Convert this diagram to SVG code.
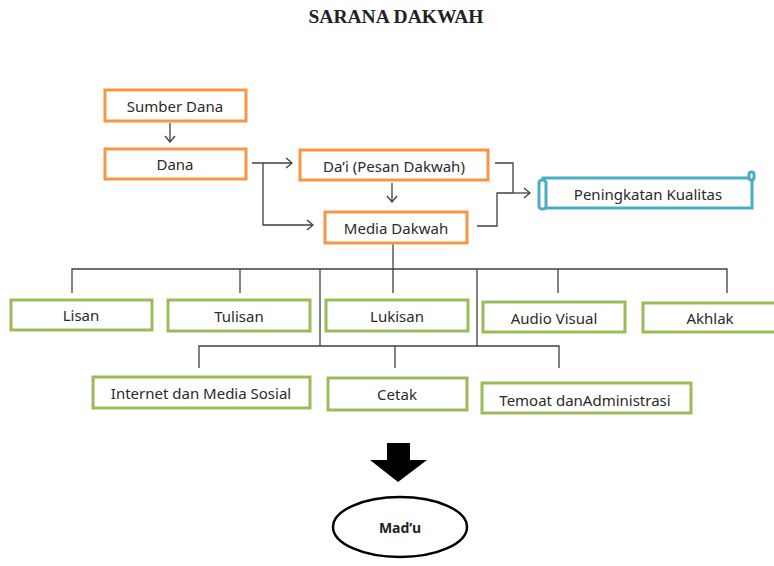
<svg xmlns="http://www.w3.org/2000/svg" width="774" height="566" viewBox="0 0 774 566">
<defs>
<style>
.o{fill:#fff;stroke:#F79646;stroke-width:3}
.g{fill:#fff;stroke:#9BBB59;stroke-width:3}
.t{fill:#fff;stroke:#4BACC6;stroke-width:3}
.lb{font-family:"Noto Sans","Open Sans",sans-serif;font-size:15px;fill:#2a2a2a;text-anchor:middle;dominant-baseline:central}
.ln{fill:none;stroke:#404040;stroke-width:1.3}
</style>
<marker id="ah" markerUnits="userSpaceOnUse" markerWidth="12" markerHeight="12" refX="9" refY="6" orient="auto">
<path d="M3,1 L9,6 L3,11" fill="none" stroke="#404040" stroke-width="1.3"/>
</marker>
</defs>
<rect width="774" height="566" fill="#fff"/>
<text x="396" y="23" font-family="Liberation Serif,serif" font-weight="bold" font-size="19.5" fill="#222" text-anchor="middle">SARANA DAKWAH</text>

<g id="connectors">
<path class="ln" d="M170,123 V142" marker-end="url(#ah)"/>
<path class="ln" d="M252,163 H292" marker-end="url(#ah)"/>
<path class="ln" d="M263,163 V225 H313" marker-end="url(#ah)"/>
<path class="ln" d="M392,183 V202" marker-end="url(#ah)"/>
<path class="ln" d="M495,163 H513 V193"/>
<path class="ln" d="M477,226 H497 V193 H513"/>
<path class="ln" d="M513,193 H530" marker-end="url(#ah)"/>
<path class="ln" d="M393,243 V293"/>
<path class="ln" d="M72,293 V269 H727 V293"/>
<path class="ln" d="M240,269 V293 M558,269 V293 M320,269 V346 M477,269 V346"/>
<path class="ln" d="M199,368 V346 H559 V368 M395,346 V368"/>
</g>

<g id="sumber-dana"><rect class="o" x="105" y="90" width="141" height="31"/><text class="lb" x="175" y="106">Sumber Dana</text></g>
<g id="dana"><rect class="o" x="105" y="149" width="141" height="30"/><text class="lb" x="175" y="164">Dana</text></g>
<g id="dai"><rect class="o" x="300" y="150" width="188" height="30"/><text class="lb" x="394" y="166">Da’i (Pesan Dakwah)</text></g>
<g id="media-dakwah"><rect class="o" x="325" y="212" width="142" height="31"/><text class="lb" x="396" y="228">Media Dakwah</text></g>
<g id="peningkatan">
<rect class="t" x="543" y="178" width="209" height="30"/>
<rect class="t" x="539" y="180" width="7" height="29" rx="3"/>
<rect class="t" x="749" y="172" width="5" height="8" rx="2.5"/>
<text class="lb" x="648" y="194">Peningkatan Kualitas</text>
</g>

<g id="lisan"><rect class="g" x="11" y="300" width="141" height="30"/><text class="lb" x="81" y="315">Lisan</text></g>
<g id="tulisan"><rect class="g" x="168" y="300" width="142" height="31"/><text class="lb" x="239" y="316">Tulisan</text></g>
<g id="lukisan"><rect class="g" x="326" y="300" width="142" height="31"/><text class="lb" x="397" y="316">Lukisan</text></g>
<g id="audio-visual"><rect class="g" x="483" y="302" width="142" height="30"/><text class="lb" x="554" y="318">Audio Visual</text></g>
<g id="akhlak"><rect class="g" x="643" y="303" width="140" height="29"/><text class="lb" x="710" y="318">Akhlak</text></g>

<g id="internet"><rect class="g" x="93" y="377" width="217" height="31"/><text class="lb" x="201" y="393">Internet dan Media Sosial</text></g>
<g id="cetak"><rect class="g" x="328" y="378" width="139" height="32"/><text class="lb" x="397" y="394">Cetak</text></g>
<g id="tempat"><rect class="g" x="482" y="383" width="209" height="30"/><text class="lb" x="585" y="400">Temoat danAdministrasi</text></g>

<g id="big-arrow"><polygon points="387,443 410,443 410,460 427,460 398,482 370,460 387,460" fill="#000"/></g>
<g id="madu"><ellipse cx="400" cy="527" rx="67" ry="30" fill="#fff" stroke="#000" stroke-width="2.5"/><text x="400" y="527" font-family="Noto Sans,sans-serif" font-weight="bold" font-size="14" fill="#222" text-anchor="middle" dominant-baseline="central">Mad’u</text></g>
</svg>
